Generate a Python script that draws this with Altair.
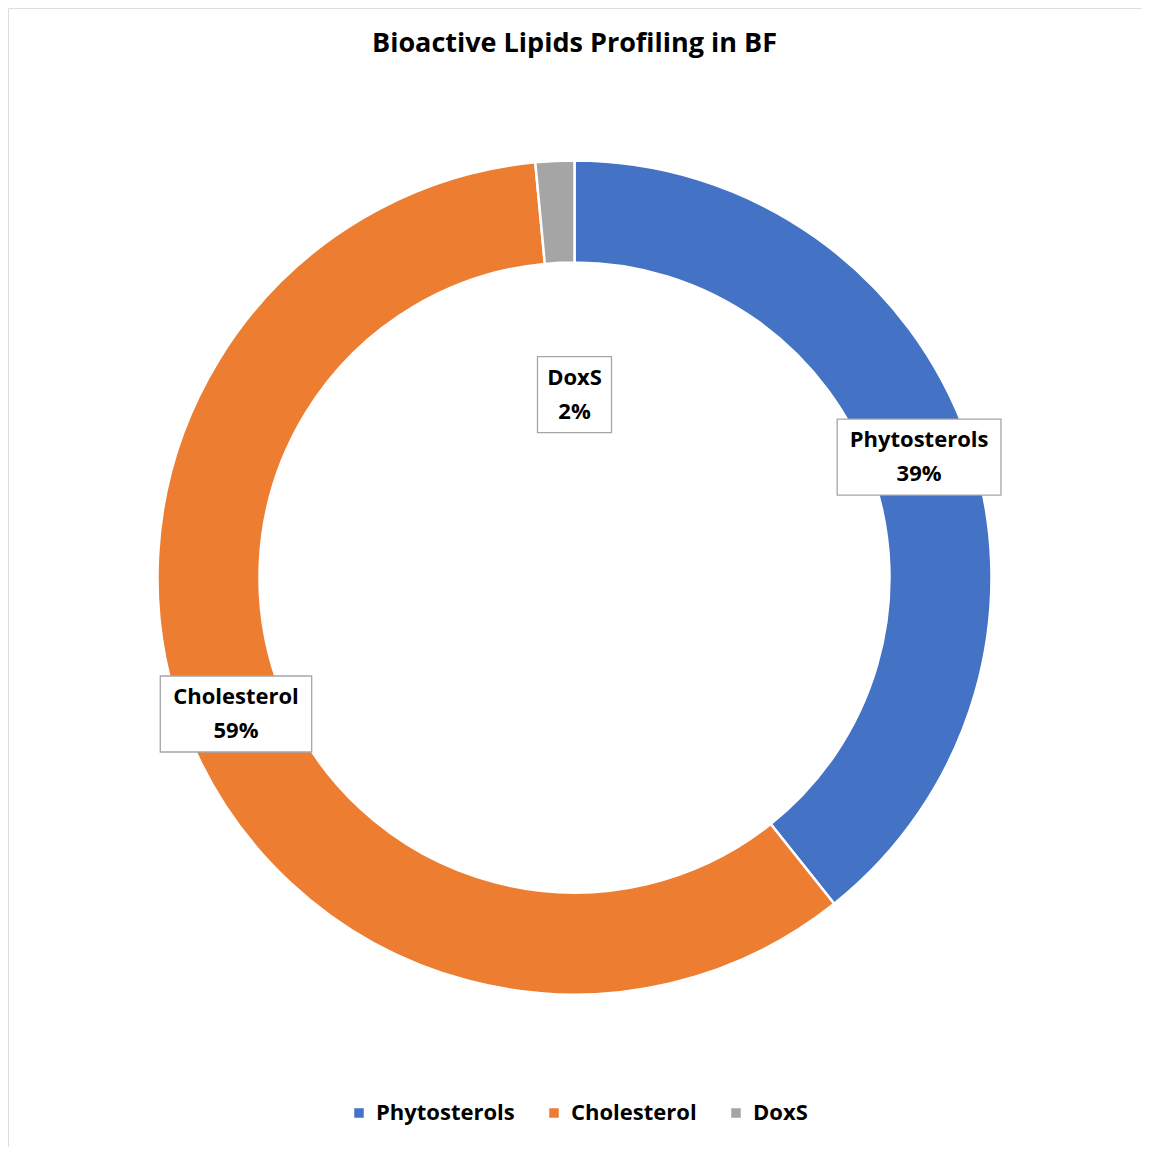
import altair as alt
import pandas as pd

categories = ["Phytosterols", "Cholesterol", "DoxS"]
values = [39.3, 59.2, 1.5]
colors = ["#4472C4", "#ED7D31", "#A5A5A5"]

df = pd.DataFrame({"category": categories, "value": values, "idx": list(range(len(categories)))})

W, H = 1133, 1139
OUTER, INNER = 417, 315
FONT = "Open Sans"

base = alt.Chart(df).transform_joinaggregate(total="sum(value)").transform_window(
    cum="sum(value)", sort=[alt.SortField("idx")], frame=[None, 0]
).transform_calculate(
    mid="2*PI*(datum.cum - datum.value/2)/datum.total",
    pct="round(datum.value/datum.total*100) + '%'",
    lab="datum.category + '\\n' + datum.pct",
    r="datum.category == 'DoxS' ? 183 : 365",
    cx="datum.category == 'DoxS' ? 0 : datum.r*sin(datum.mid)",
    cy="datum.r*cos(datum.mid)",
    hw="datum.category == 'DoxS' ? 37 : (length(datum.category)*12.4 + 15)/2",
    x1="datum.cx - datum.hw",
    x2="datum.cx + datum.hw",
    y1="datum.cy - 38",
    y2="datum.cy + 38",
)

arcs = alt.Chart(df).mark_arc(
    outerRadius=OUTER, innerRadius=INNER, stroke="white", strokeWidth=2.5
).encode(
    theta=alt.Theta("value:Q", stack=True),
    order=alt.Order("idx:Q"),
    color=alt.Color(
        "category:N",
        sort=categories,
        scale=alt.Scale(domain=categories, range=colors),
        legend=alt.Legend(
            title=None,
            orient="none",
            direction="horizontal",
            legendX=340,
            legendY=1094,
            symbolType="square",
            symbolSize=121,
            labelFont=FONT,
            labelFontSize=22,
            labelFontWeight="bold",
            labelColor="#000000",
            columnPadding=28,
            symbolOffset=0,
            labelOffset=6,
            labelLimit=300,
        ),
    ),
)

xs = alt.Scale(domain=[-W / 2, W / 2])
ys = alt.Scale(domain=[-H / 2, H / 2])

boxes = base.mark_rect(fill="white", stroke="#A6A6A6", strokeWidth=1.3).encode(
    x=alt.X("x1:Q", scale=xs, axis=None),
    x2="x2:Q",
    y=alt.Y("y1:Q", scale=ys, axis=None),
    y2="y2:Q",
)

texts = base.mark_text(
    font=FONT, fontSize=22, fontWeight="bold", color="#000000", lineBreak="\n", lineHeight=34,
    baseline="middle", align="center", dy=-17
).encode(
    x=alt.X("cx:Q", scale=xs, axis=None),
    y=alt.Y("cy:Q", scale=ys, axis=None),
    text="lab:N",
)

chart = alt.layer(arcs, boxes, texts).resolve_scale(x="shared", y="shared").properties(
    width=W,
    height=H,
    padding=0,
    title=alt.TitleParams(
        "Bioactive Lipids Profiling in BF",
        font=FONT,
        fontSize=27,
        fontWeight="bold",
        color="#000000",
        anchor="middle",
        orient="top",
        offset=-50,
    ),
).configure_view(stroke="#D9D9D9", strokeWidth=1).configure(background="white")

chart.save("out.html", embed_options={"renderer": "svg", "actions": False})
